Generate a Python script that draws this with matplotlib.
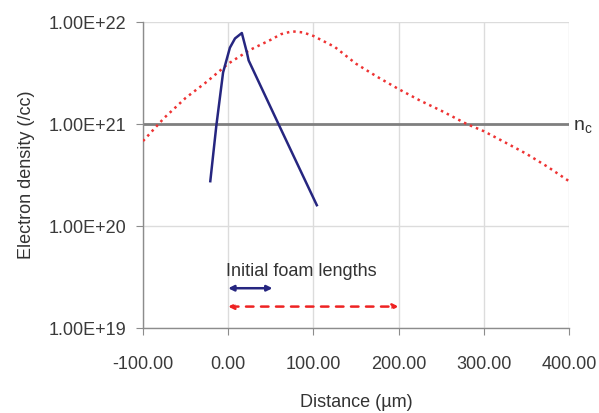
import matplotlib
matplotlib.use("Agg")
import matplotlib.pyplot as plt
from matplotlib.ticker import FixedLocator, FuncFormatter, NullLocator

plt.rcParams["font.family"] = ["Liberation Sans", "DejaVu Sans"]

# blue profile (initial foam, short)
blue_x = [-21, -14, -6, 2, 8, 16, 22, 24, 59, 104]
blue_y = [2.75e20, 9.5e20, 3.2e21, 5.6e21, 6.9e21, 7.8e21, 5.0e21, 4.2e21, 1.0e21, 1.6e20]

# red profile (long foam)
red_x = [-100, -75, -50, -25, 0, 25, 50, 62, 75, 88, 100, 125, 150, 175, 200, 225, 250, 280,
         300, 325, 350, 375, 400]
red_y = [6.8e20, 1.15e21, 1.8e21, 2.6e21, 3.9e21, 5.3e21, 6.7e21, 7.6e21, 8.1e21, 7.9e21, 7.3e21,
         5.7e21, 3.9e21, 2.9e21, 2.2e21, 1.7e21, 1.35e21, 1.0e21, 8.5e20, 6.6e20, 5.1e20, 3.8e20, 2.75e20]

n_crit = 1e21
blue_length = [0, 52]
red_length = [0, 200]
x_ticks = [-100, 0, 100, 200, 300, 400]
y_ticks = [1e19, 1e20, 1e21, 1e22]
y_tick_labels = ["1.00E+19", "1.00E+20", "1.00E+21", "1.00E+22"]

fig = plt.figure(figsize=(5.99, 4.13), dpi=100)
ax = fig.add_axes([0.2387, 0.2058, 0.7113, 0.7409])

ax.set_yscale("log")
ax.set_xlim(-100, 400)
ax.set_ylim(1e19, 1e22)

ax.xaxis.set_major_locator(FixedLocator(x_ticks))
ax.xaxis.set_major_formatter(FuncFormatter(lambda v, _: f"{v:.2f}"))
ax.yaxis.set_major_locator(FixedLocator(y_ticks))
ax.yaxis.set_major_formatter(FuncFormatter(lambda v, p: y_tick_labels[y_ticks.index(v)] if v in y_ticks else ""))
ax.yaxis.set_minor_locator(NullLocator())

ax.grid(True, color="#dcdcdc", linewidth=1.0)
ax.set_axisbelow(True)
for side in ("top", "right"):
    ax.spines[side].set_visible(False)
for side in ("left", "bottom"):
    ax.spines[side].set_color("#8c8c8c")
    ax.spines[side].set_linewidth(1.0)
ax.tick_params(axis="both", direction="out", length=5, color="#8c8c8c", labelsize=13,
               labelcolor="#3a3a3a")
ax.tick_params(axis="x", pad=15)
ax.tick_params(axis="y", pad=7)

ax.axhline(n_crit, color="#7f7f7f", linewidth=2.0, zorder=2)
ax.plot(red_x, red_y, color="#ee3333", linestyle=(0, (1, 1.6)), linewidth=1.8, zorder=3)
ax.plot(blue_x, blue_y, color="#262680", linewidth=1.8, zorder=4)

ax.annotate("", xy=(blue_length[1], 10 ** 19.39), xytext=(blue_length[0], 10 ** 19.39),
            arrowprops=dict(arrowstyle="<|-|>", color="#262680", lw=1.8,
                            mutation_scale=8, shrinkA=0, shrinkB=0))
ax.annotate("", xy=(red_length[1], 10 ** 19.21), xytext=(red_length[0], 10 ** 19.21),
            arrowprops=dict(arrowstyle="<|-|>", color="#ee2222", lw=1.8, linestyle=(0, (3, 3)),
                            mutation_scale=8, shrinkA=0, shrinkB=0))
ax.text(-2, 10 ** 19.55, "Initial foam lengths", fontsize=13, color="#333333", va="center", ha="left")

ax.text(1.01, 0.655, r"n$_\mathregular{c}$", transform=ax.transAxes, fontsize=14,
        color="#333333", va="center", ha="left")

ax.set_ylabel("Electron density (/cc)", fontsize=13, color="#333333", labelpad=10)
ax.set_xlabel("Distance (\u00b5m)", fontsize=13, color="#333333", labelpad=15)

fig.savefig("out.png", dpi=100)
